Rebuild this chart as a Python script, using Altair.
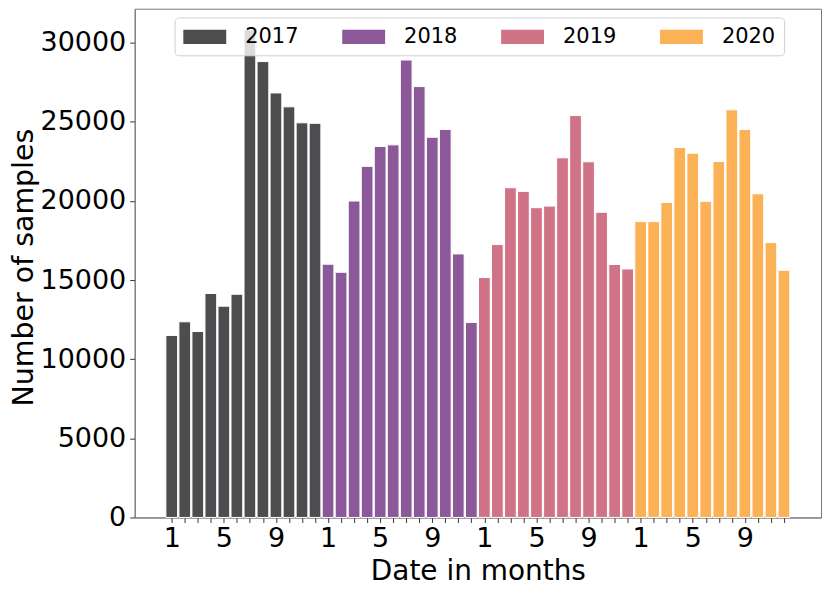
import altair as alt
import pandas as pd

years = ["2017", "2018", "2019", "2020"]
months = list(range(1, 13))
v2017 = [11500, 12360, 11750, 14150, 13350, 14100, 30800, 28800, 26820, 25940, 24930, 24900]
v2018 = [16000, 15490, 19990, 22180, 23440, 23540, 28900, 27220, 24020, 24510, 16650, 12320]
v2019 = [15160, 17240, 20830, 20600, 19570, 19670, 22720, 25390, 22470, 19280, 15980, 15700]
v2020 = [18690, 18690, 19900, 23370, 23010, 19970, 22490, 25750, 24510, 20450, 17360, 15610]
colors = ["#4d4d4f", "#8b5899", "#d07387", "#fbb155"]
labelled_months = [1, 5, 9]
y_ticks = [0, 5000, 10000, 15000, 20000, 25000, 30000]

rows = []
for yi, (yr, vals) in enumerate(zip(years, [v2017, v2018, v2019, v2020])):
    for m, v in zip(months, vals):
        rows.append({"year": yr, "month": m, "pos": yi * 12 + m - 1, "count": v})
df = pd.DataFrame(rows)

n = len(df)
half = 0.45
margin = 0.05 * (n - 1 + 2 * half)
xdom = [-half - margin, n - 1 + half + margin]

FONT = "DejaVu Sans"

label_expr = ("indexof([1,5,9], (datum.value % 12) + 1) >= 0 ? "
              "toString((datum.value % 12) + 1) : ''")

bars = alt.Chart(df).transform_calculate(
    x0="datum.pos - 0.45", x1="datum.pos + 0.45", base="0"
).mark_bar(stroke="white", strokeWidth=1).encode(
    x=alt.X("x0:Q",
            scale=alt.Scale(domain=xdom, nice=False, zero=False),
            axis=alt.Axis(values=list(range(n)), labelExpr=label_expr,
                          title="Date in months", grid=False,
                          labelFontSize=27, labelFont=FONT, labelColor="black",
                          labelPadding=3, tickSize=5, tickColor="#333",
                          labelOverlap=False, labelFlush=False,
                          domainColor="#777",
                          titleFontSize=28, titleFont=FONT, titleFontWeight="normal",
                          titleColor="black", titleX=344, titleY=62,
                          titleBaseline="alphabetic", titleAlign="center")),
    x2="x1:Q",
    y=alt.Y("count:Q",
            scale=alt.Scale(domain=[0, 32140], nice=False),
            axis=alt.Axis(values=y_ticks, format="d", title="Number of samples",
                          grid=False, labelFontSize=27, labelFont=FONT,
                          labelColor="black", labelPadding=4, tickSize=5,
                          tickColor="#333", domainColor="#777",
                          titleFontSize=28.5, titleFont=FONT, titleFontWeight="normal",
                          titleColor="black", titleX=-111, titleY=259,
                          titleAngle=270, titleAlign="center",
                          titleBaseline="middle")),
    y2="base:Q",
    color=alt.Color("year:N",
                    scale=alt.Scale(domain=years, range=colors),
                    legend=alt.Legend(orient="none", legendX=40, legendY=8.7,
                                      direction="horizontal", columns=4, title=None,
                                      symbolType="M-2,-0.66H2V0.66H-2Z",
                                      symbolSize=462, symbolOffset=10.75,
                                      symbolStrokeWidth=0, symbolOpacity=1,
                                      labelFontSize=21, labelFont=FONT,
                                      labelColor="black", labelOffset=29.5,
                                      columnPadding=43.3, padding=8.5,
                                      fillColor="rgba(255,255,255,0.8)",
                                      strokeColor="#d0d0d0", cornerRadius=4)),
)

chart = bars.properties(
    width=688, height=510,
    autosize=alt.AutoSizeParams(type="none"),
    padding={"left": 127, "top": 0, "right": 1, "bottom": 73},
).configure_view(stroke="#777", strokeWidth=1)

chart.save("out.html", embed_options={"renderer": "svg", "actions": False})
